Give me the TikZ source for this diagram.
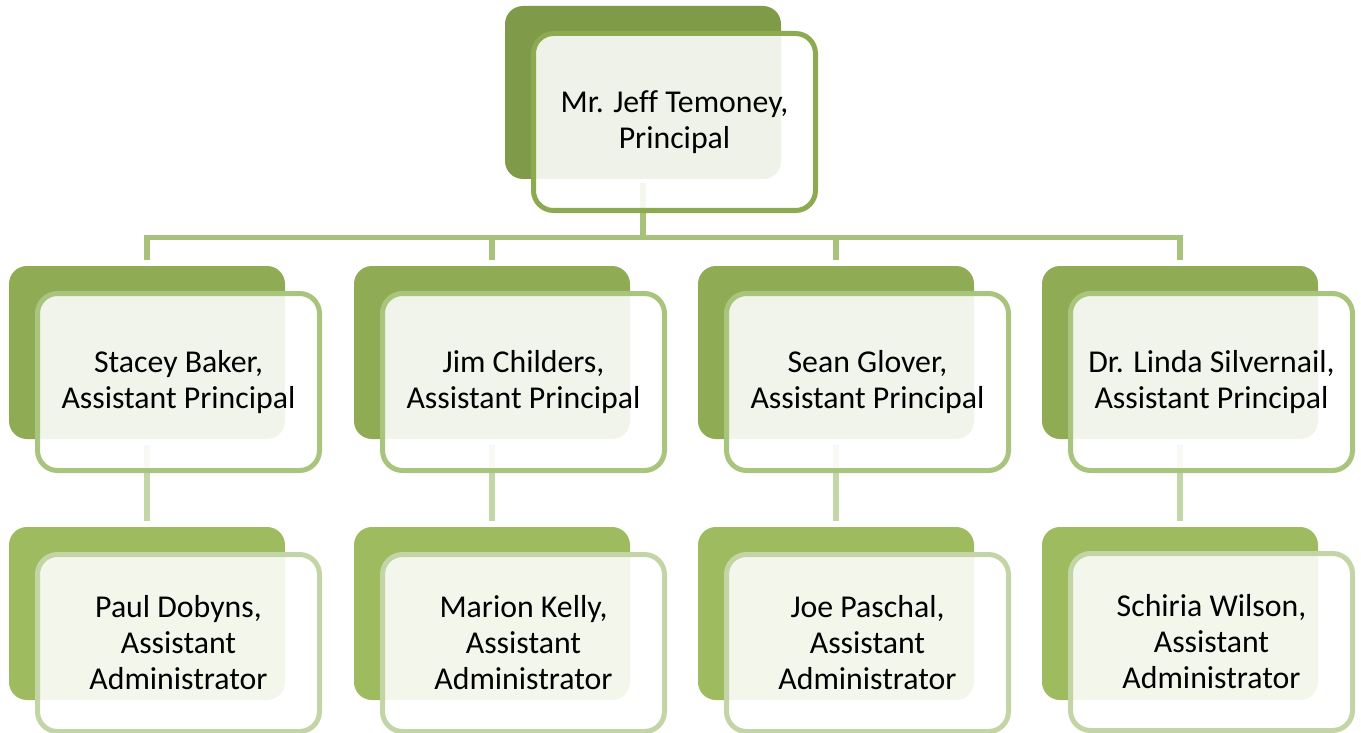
\documentclass[tikz,border=0pt]{standalone}
\usepackage{fontspec}
\setmainfont[Ligatures=NoCommon]{Carlito}
\definecolor{backA}{HTML}{7F9A48}
\definecolor{backB}{HTML}{8FAB53}
\definecolor{backC}{HTML}{9EBB5F}
\definecolor{edgeA}{HTML}{8CAA50}
\definecolor{edgeB}{HTML}{A9C57D}
\definecolor{edgeC}{HTML}{C3D5A7}
\definecolor{connA}{HTML}{A6C27B}
\definecolor{connB}{HTML}{C3D6A8}
\tikzset{
  backbox/.style={draw=none, rounded corners=18pt, minimum width=276pt, minimum height=173pt, inner sep=0pt},
  frontbox/.style={rounded corners=20pt, line width=5pt, fill=white, fill opacity=0.88, text opacity=1,
     minimum width=282pt, minimum height=177pt, inner sep=0pt, align=center,
     font=\fontsize{31.8}{36}\selectfont},
  connline/.style={line width=5.5pt},
}
\begin{document}
\begin{tikzpicture}[x=1pt,y=-1pt]
\useasboundingbox (0,0) rectangle (1361,733);
% back boxes
\node[backbox, fill=backA] (b0) at (643,92.5) {};
\foreach \i/\x in {1/147, 2/492, 3/836, 4/1180} {
  \node[backbox, fill=backB] (b\i) at (\x,352.5) {};
  \node[backbox, fill=backC] (c\i) at (\x,613.5) {};
}
% connectors
\coordinate (bus) at (643,237.5);
\draw[connline, draw=connA] ([yshift=-4pt]b0.south) -- (b0.south |- bus);
\draw[connline, draw=connA, line join=miter] ([yshift=6pt]b1.north) |- (bus) -| ([yshift=6pt]b4.north);
\draw[connline, draw=connA] (b2.north |- bus) -- ([yshift=6pt]b2.north);
\draw[connline, draw=connA] (b3.north |- bus) -- ([yshift=6pt]b3.north);
\foreach \i in {1,2,3,4} {
  \draw[connline, draw=connB] ([yshift=-6pt]b\i.south) -- ([yshift=6pt]c\i.north);
}
% front boxes
\node[frontbox, draw=edgeA] (f0) at (674.5,122) {Mr. Jeff Temoney,\\Principal};
\node[frontbox, draw=edgeB] (f1) at (178.5,382) {Stacey Baker,\\Assistant Principal};
\node[frontbox, draw=edgeB] (f2) at (523.5,382) {Jim Childers,\\Assistant Principal};
\node[frontbox, draw=edgeB] (f3) at (867.5,382) {Sean Glover,\\Assistant Principal};
\node[frontbox, draw=edgeB] (f4) at (1211.5,382) {Dr. Linda Silvernail,\\Assistant Principal};
\node[frontbox, draw=edgeC] (g1) at (178.5,643) {Paul Dobyns,\\Assistant\\Administrator};
\node[frontbox, draw=edgeC] (g2) at (523.5,643) {Marion Kelly,\\Assistant\\Administrator};
\node[frontbox, draw=edgeC] (g3) at (867.5,643) {Joe Paschal,\\Assistant\\Administrator};
\node[frontbox, draw=edgeC] (g4) at (1211.5,642) {Schiria Wilson,\\Assistant\\Administrator};
\end{tikzpicture}
\end{document}
